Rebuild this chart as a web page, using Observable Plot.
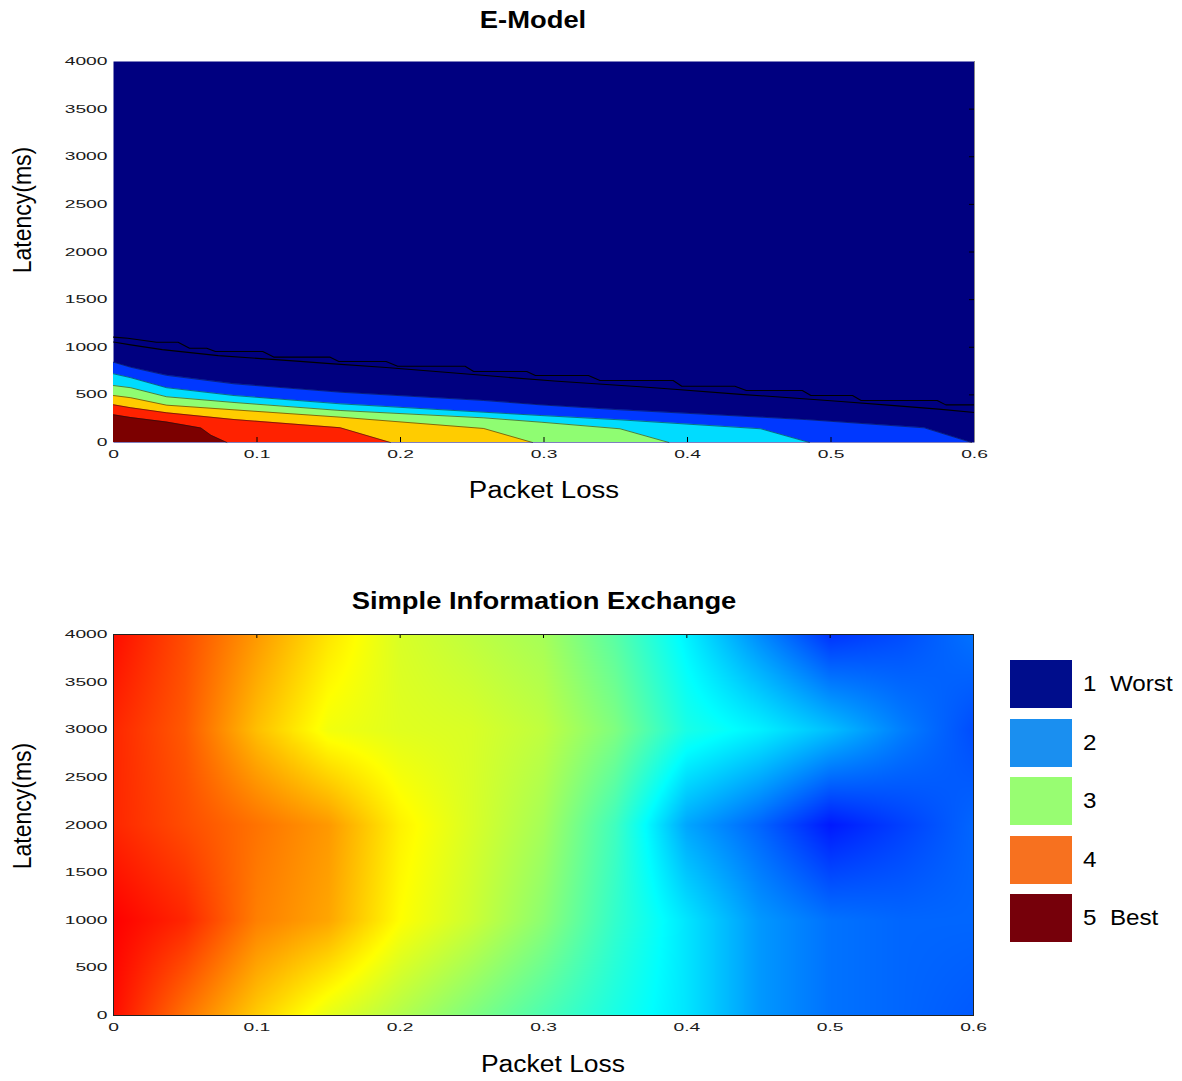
<!DOCTYPE html>
<html>
<head>
<meta charset="utf-8">
<script src="https://cdn.jsdelivr.net/npm/d3@7"></script>
<script src="https://cdn.jsdelivr.net/npm/@observablehq/plot@0.6"></script>
<style>
  body { margin: 0; background: #fff; }
  #wrap { position: relative; width: 1182px; height: 1081px; overflow: hidden; font-family: "Liberation Sans", Arial, sans-serif; color: #000; }
  .abs { position: absolute; white-space: nowrap; line-height: 1; }
  .title { font-weight: bold; font-size: 24px; }
  .axlab { font-size: 23px; }
  .chart { position: absolute; left: 0; }
  .leg-sw { position: absolute; width: 62px; height: 48px; }
  .leg-tx { position: absolute; font-size: 22px; white-space: pre; line-height: 1; transform-origin: 0 50%; }
</style>
</head>
<body>
<div id="wrap"></div>
<script>
// ---------------- data ----------------
const lossTicks = [0, 0.1, 0.2, 0.3, 0.4, 0.5, 0.6];
const latencyTicks = [0, 500, 1000, 1500, 2000, 2500, 3000, 3500, 4000];

// E-Model filled-contour boundaries: [packet loss, latency(ms)] of each level's upper edge
const eBlueTop = [[0,843],[0.012,790],[0.037,705],[0.084,616],[0.158,528],[0.258,441],[0.298,395],[0.353,343],[0.451,266],[0.483,240],[0.565,154],[0.598,0]];
const eCyanTop = [[0,721],[0.012,680],[0.037,575],[0.084,493],[0.158,406],[0.258,318],[0.298,283],[0.353,238],[0.451,144],[0.485,0]];
const eGreenTop = [[0,598],[0.012,575],[0.037,480],[0.084,420],[0.158,336],[0.258,259],[0.298,213],[0.353,144],[0.387,0]];
const eYellowTop = [[0,493],[0.012,470],[0.037,392],[0.084,343],[0.158,266],[0.258,147],[0.292,0]];
const eRedTop = [[0,396],[0.012,365],[0.037,312],[0.084,241],[0.158,155],[0.193,0]];
const eDarkRedTop = [[0,291],[0.012,262],[0.037,215],[0.061,152],[0.068,75],[0.079,0]];
const eBandColors = ["#0038ff", "#00dcff", "#8ffd72", "#ffcc00", "#ff2200", "#7c0000"];
const eBackground = "#000080";

// two contour lines inside the worst region
const eLineUpper = [[0,1106],[0.010,1095],[0.030,1053],[0.045,1053],[0.053,990],[0.065,990],[0.071,955],[0.104,955],[0.112,896],[0.151,896],[0.157,850],[0.190,850],[0.198,801],[0.245,801],[0.251,745],[0.288,745],[0.294,703],[0.331,703],[0.339,651],[0.390,651],[0.396,591],[0.433,591],[0.441,546],[0.480,546],[0.486,493],[0.515,493],[0.521,441],[0.574,441],[0.580,395],[0.6,395]];
const eLineLower = [[0,1055],[0.012,1025],[0.034,975],[0.073,912],[0.130,852],[0.151,828],[0.190,788],[0.229,740],[0.270,690],[0.307,645],[0.367,585],[0.386,565],[0.437,505],[0.464,478],[0.507,430],[0.542,390],[0.575,350],[0.6,315]];

// Simple Information Exchange score grid
const sieLoss = [0, 0.05, 0.1, 0.15, 0.2, 0.25, 0.3, 0.35, 0.4, 0.45, 0.5, 0.55, 0.6];
const sieLatency = [0, 1000, 2000, 3000, 4000];
const sieScoreAt0    = [4.45, 4.05, 3.7, 3.4, 3.2, 3.0, 2.8, 2.6, 2.4, 2.1, 1.95, 1.9, 1.85];
const sieScoreAt1000 = [4.5, 4.35, 4.0, 3.85, 3.5, 3.3, 3.05, 2.7, 2.4, 2.1, 1.95, 1.9, 1.9];
const sieScoreAt2000 = [4.35, 4.2, 4.05, 3.9, 3.55, 3.35, 3.15, 2.75, 2.15, 1.9, 1.6, 1.75, 1.9];
const sieScoreAt3000 = [4.35, 4.15, 3.75, 3.45, 3.38, 3.35, 3.25, 3.0, 2.6, 2.45, 2.25, 2.0, 1.8];
const sieScoreAt4000 = [4.45, 4.2, 3.9, 3.6, 3.35, 3.25, 3.15, 2.85, 2.45, 2.05, 1.7, 1.8, 1.95];

// jet colour map stops
const jetDomain = [1, 1.5, 2.5, 3.5, 4.5, 5];
const jetRange = ["#000080", "#0000ff", "#00ffff", "#ffff00", "#ff0000", "#800000"];

// legend
const legendLabels = ["1  Worst", "2", "3", "4", "5  Best"];
const legendColors = ["#000d8c", "#1a8ff0", "#98fd72", "#f7711f", "#76000a"];

// ---------------- build ----------------
const wrap = document.getElementById("wrap");
const toPts = arr => arr.map(([loss, lat]) => ({loss, lat}));
const eBands = [eBlueTop, eCyanTop, eGreenTop, eYellowTop, eRedTop, eDarkRedTop].map(toPts);

const sieRows = [sieScoreAt0, sieScoreAt1000, sieScoreAt2000, sieScoreAt3000, sieScoreAt4000];
function cellIndex(arr, v) {
  const i = Math.max(0, Math.min(arr.length - 2, d3.bisectRight(arr, v) - 1));
  const t = Math.max(0, Math.min(1, (v - arr[i]) / (arr[i + 1] - arr[i])));
  return [i, t];
}
// bilinear shading between the grid samples (like MATLAB "shading interp")
function sieScore(x, y) {
  const [i, tx] = cellIndex(sieLoss, x);
  const [j, ty] = cellIndex(sieLatency, y);
  const a = sieRows[j][i], b = sieRows[j][i + 1], c = sieRows[j + 1][i], d = sieRows[j + 1][i + 1];
  return (a * (1 - tx) + b * tx) * (1 - ty) + (c * (1 - tx) + d * tx) * ty;
}

const tickFont = {fontSize: "11px", fontFamily: "'Liberation Sans', Arial, sans-serif", color: "#1a1a1a", background: "transparent", overflow: "visible"};

function stretchTicks(svg, sx) {
  svg.querySelectorAll('g[aria-label$="tick label"] text').forEach(t => {
    let tr = t.getAttribute("transform");
    if (!tr) {
      const x = t.getAttribute("x") || 0, y = t.getAttribute("y") || 0;
      t.removeAttribute("x"); t.removeAttribute("y");
      tr = `translate(${x},${y})`;
    }
    t.setAttribute("transform", tr + ` scale(${sx},1)`);
  });
}

// ---- Chart 1: E-Model ----
const frameH1 = 381, frameW = 861;
const chart1 = Plot.plot({
  width: 1000, height: 520,
  marginLeft: 113, marginRight: 26, marginTop: 61, marginBottom: 78,
  style: tickFont,
  x: {domain: [0, 0.6], label: null},
  y: {domain: [0, 4000], label: null},
  marks: [
    Plot.frame({fill: eBackground}),
    ...eBands.map((band, k) => Plot.areaY(band, {x: "loss", y: "lat", fill: eBandColors[k]})),
    ...eBands.map(band => Plot.line(band, {x: "loss", y: "lat", stroke: "#111", strokeWidth: 0.7, strokeOpacity: 0.75})),
    Plot.line(toPts(eLineUpper), {x: "loss", y: "lat", stroke: "#000", strokeWidth: 1.1}),
    Plot.line(toPts(eLineLower), {x: "loss", y: "lat", stroke: "#000", strokeWidth: 1.1}),
    Plot.tickX(lossTicks.slice(1, -1), {insetTop: frameH1 - 5, stroke: "#000", strokeWidth: 1}),
    Plot.tickY(latencyTicks.slice(1, -1), {insetLeft: frameW - 5, stroke: "#000", strokeWidth: 1}),
    Plot.ruleX([0.6], {stroke: "#888", strokeWidth: 1}),
    Plot.axisX({ticks: lossTicks, tickFormat: d => String(d), tickSize: 0, tickPadding: 8}),
    Plot.axisY({ticks: latencyTicks, tickFormat: d => String(d), tickSize: 0, tickPadding: 6})
  ]
});
chart1.classList.add("chart");
chart1.style.top = "0px";
stretchTicks(chart1, 1.75);
wrap.appendChild(chart1);

// ---- Chart 2: Simple Information Exchange ----
const top2 = 540;
const frameH2 = 381;
const chart2 = Plot.plot({
  width: 1000, height: 520,
  marginLeft: 113, marginRight: 27, marginTop: 634 - top2, marginBottom: top2 + 520 - 1015,
  style: tickFont,
  x: {domain: [0, 0.6], label: null},
  y: {domain: [0, 4000], label: null},
  color: {type: "linear", domain: jetDomain, range: jetRange, interpolate: "rgb"},
  marks: [
    Plot.raster({fill: sieScore, x1: 0, x2: 0.6, y1: 0, y2: 4000, pixelSize: 1}),
    Plot.tickX(lossTicks.slice(1, -1), {insetBottom: frameH2 - 4, stroke: "#000", strokeWidth: 1}),
    Plot.frame({stroke: "#222", strokeWidth: 1}),
    Plot.axisX({ticks: lossTicks, tickFormat: d => String(d), tickSize: 0, tickPadding: 8}),
    Plot.axisY({ticks: latencyTicks, tickFormat: d => String(d), tickSize: 0, tickPadding: 6})
  ]
});
chart2.classList.add("chart");
chart2.style.top = top2 + "px";
stretchTicks(chart2, 1.75);
wrap.appendChild(chart2);

// ---- titles & axis labels ----
function label(text, cls, cx, cy, extra) {
  const d = document.createElement("div");
  d.className = "abs " + cls;
  d.textContent = text;
  d.style.left = cx + "px";
  d.style.top = cy + "px";
  d.style.transform = "translate(-50%,-50%) " + (extra || "");
  wrap.appendChild(d);
}
label("E-Model", "title", 533, 20, "scaleX(1.14)");
label("Packet Loss", "axlab", 544, 490, "scaleX(1.2)");
label("Latency(ms)", "axlab", 22, 210, "rotate(-90deg) scaleY(1.15)");
label("Simple Information Exchange", "title", 544, 601, "scaleX(1.14)");
label("Packet Loss", "axlab", 553, 1064, "scaleX(1.15)");
label("Latency(ms)", "axlab", 22, 806, "rotate(-90deg) scaleY(1.15)");

// ---- legend ----
legendLabels.forEach((lab, i) => {
  const y = 660 + i * 58.5;
  const sw = document.createElement("div");
  sw.className = "leg-sw";
  sw.style.left = "1010px";
  sw.style.top = y + "px";
  sw.style.background = legendColors[i];
  wrap.appendChild(sw);
  const tx = document.createElement("div");
  tx.className = "leg-tx";
  tx.textContent = lab;
  tx.style.left = "1083px";
  tx.style.top = (y + 24) + "px";
  tx.style.transform = "translateY(-50%) scaleX(1.1)";
  wrap.appendChild(tx);
});
</script>
</body>
</html>
